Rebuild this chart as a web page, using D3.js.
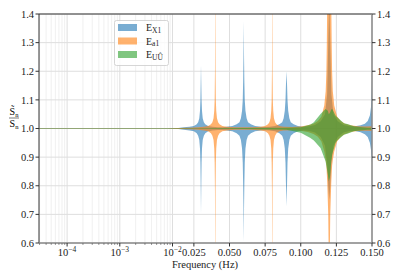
<!DOCTYPE html>
<html>
<head>
<meta charset="utf-8">
<script src="https://cdn.jsdelivr.net/npm/d3@7"></script>
<style>
  body{margin:0;background:#fff;}
  text{font-family:"Liberation Serif","Times New Roman",serif;}
</style>
</head>
<body>
<svg id="chart" width="399" height="279"></svg>
<script>
// series labels, colours
var seriesNames=["X1","a1","UÛ"];
var seriesColors=["#1f77b4","#ff7f0e","#2ca02c"];

// [frequency, upper, lower]
var eX1=[
  [0.0000293,1.001,0.999],[0.001,1.001,0.999],[0.008,1.001,0.999],[0.014,1.002,0.998],
  [0.018,1.004,0.996],[0.022,1.006,0.993],[0.025,1.009,0.990],[0.027,1.015,0.983],
  [0.028,1.022,0.975],[0.0288,1.036,0.960],[0.0293,1.062,0.930],[0.0296,1.100,0.880],
  [0.0298,1.160,0.800],[0.0300,1.220,0.705],[0.0302,1.160,0.800],[0.0304,1.100,0.880],
  [0.0307,1.062,0.930],[0.0312,1.036,0.960],[0.0320,1.022,0.975],[0.0330,1.015,0.983],
  [0.0350,1.009,0.990],[0.0380,1.006,0.993],[0.0420,1.004,0.995],[0.0450,1.004,0.995],
  [0.0480,1.006,0.993],[0.0520,1.009,0.990],[0.0550,1.015,0.983],[0.0570,1.022,0.975],
  [0.0580,1.036,0.960],[0.0588,1.062,0.930],[0.0593,1.100,0.880],[0.0596,1.170,0.800],
  [0.0598,1.250,0.720],[0.0600,1.375,0.605],[0.0602,1.250,0.720],[0.0604,1.170,0.800],
  [0.0607,1.100,0.880],[0.0612,1.062,0.930],[0.0620,1.036,0.960],[0.0630,1.022,0.975],
  [0.0650,1.015,0.983],[0.0680,1.009,0.990],[0.0720,1.006,0.993],[0.0750,1.005,0.994],
  [0.0780,1.006,0.993],[0.0820,1.009,0.990],[0.0850,1.015,0.983],[0.0870,1.022,0.975],
  [0.0880,1.036,0.960],[0.0888,1.062,0.930],[0.0893,1.100,0.880],[0.0896,1.150,0.810],
  [0.0900,1.200,0.728],[0.0904,1.150,0.810],[0.0907,1.100,0.880],[0.0912,1.062,0.930],
  [0.0920,1.036,0.960],[0.0930,1.022,0.975],[0.0950,1.015,0.983],[0.0980,1.009,0.990],
  [0.1020,1.006,0.993],[0.1060,1.008,0.991],[0.1100,1.012,0.986],[0.1140,1.025,0.970],
  [0.1170,1.050,0.940],[0.1185,1.120,0.880],[0.1193,1.300,0.800],[0.1200,1.450,0.750],
  [0.1207,1.300,0.800],[0.1215,1.120,0.880],[0.1230,1.050,0.940],[0.1260,1.025,0.970],
  [0.1300,1.012,0.986],[0.1340,1.008,0.991],[0.1380,1.008,0.991],[0.1420,1.011,0.987],
  [0.1450,1.017,0.980],[0.1470,1.026,0.970],[0.1485,1.045,0.950],[0.1493,1.075,0.925],
  [0.1497,1.120,0.900],[0.1500,1.170,0.880]
];
var eA1=[
  [0.0000293,1.001,0.999],[0.008,1.001,0.999],[0.015,1.002,0.998],[0.022,1.003,0.997],
  [0.028,1.004,0.996],[0.032,1.006,0.993],[0.035,1.009,0.990],[0.037,1.015,0.983],
  [0.038,1.022,0.975],[0.0388,1.036,0.960],[0.0393,1.062,0.930],[0.0396,1.100,0.880],
  [0.0398,1.200,0.780],[0.0400,1.600,0.400],[0.0402,1.200,0.780],[0.0404,1.100,0.880],
  [0.0407,1.062,0.930],[0.0412,1.036,0.960],[0.042,1.022,0.975],[0.043,1.015,0.983],
  [0.045,1.009,0.990],[0.048,1.006,0.993],[0.054,1.004,0.996],[0.066,1.004,0.996],
  [0.072,1.006,0.993],[0.075,1.009,0.990],[0.077,1.015,0.983],[0.078,1.022,0.975],
  [0.0788,1.036,0.960],[0.0793,1.062,0.930],[0.0796,1.100,0.880],[0.0798,1.200,0.780],
  [0.0800,1.600,0.400],[0.0802,1.200,0.780],[0.0804,1.100,0.880],[0.0807,1.062,0.930],
  [0.0812,1.036,0.960],[0.082,1.022,0.975],[0.083,1.015,0.983],[0.085,1.009,0.990],
  [0.088,1.006,0.993],[0.094,1.005,0.994],[0.100,1.007,0.992],[0.105,1.011,0.988],
  [0.109,1.017,0.981],[0.112,1.026,0.971],[0.1145,1.042,0.955],[0.1165,1.080,0.920],
  [0.1175,1.130,0.890],[0.1180,1.200,0.870],[0.1183,1.300,0.840],[0.1186,1.450,0.810],
  [0.1193,1.550,0.700],[0.1200,1.600,0.400],[0.1207,1.550,0.700],[0.1214,1.450,0.810],
  [0.1217,1.300,0.840],[0.1220,1.200,0.870],[0.1225,1.130,0.890],[0.1235,1.080,0.920],
  [0.1255,1.042,0.955],[0.128,1.026,0.971],[0.131,1.017,0.981],[0.135,1.011,0.988],
  [0.140,1.008,0.991],[0.145,1.007,0.992],[0.150,1.008,0.991]
];
var eUU=[
  [0.0000293,1.001,0.999],[0.008,1.001,0.999],[0.03,1.001,0.999],[0.06,1.002,0.998],
  [0.09,1.003,0.996],[0.100,1.004,0.985],[0.1068,1.014,0.967],[0.1092,1.022,0.958],
  [0.1139,1.051,0.932],[0.1174,1.068,0.886],[0.1190,1.062,0.840],[0.1197,1.050,0.816],
  [0.1205,1.055,0.830],[0.1214,1.066,0.886],[0.1221,1.068,0.910],[0.1244,1.045,0.949],
  [0.1256,1.039,0.958],[0.1303,1.018,0.978],[0.1327,1.016,0.982],[0.1373,1.008,0.990],
  [0.1397,1.006,0.992],[0.1468,1.003,0.996],[0.1500,1.003,0.996]
];
var allSeries=[eX1,eA1,eUU];

var yTicks=[0.6,0.7,0.8,0.9,1.0,1.1,1.2,1.3,1.4];
var logTicks=[1e-4,1e-3,1e-2];
var linTicks=[0.025,0.050,0.075,0.100,0.125,0.150];

var L=39,R=372,T=14,B=243,brk=172.5;
var FONT="Liberation Serif, Times New Roman, serif";
var svg=d3.select("#chart");

// log part below 0.01, linear part above
var xLog=d3.scaleLog().domain([2.93e-5,0.01]).range([L,brk]);
var xLin=d3.scaleLinear().domain([0.01,0.15]).range([brk,R]);
function x(f){ return f<=0.01 ? xLog(f) : xLin(f); }
var y=d3.scaleLinear().domain([0.6,1.4]).range([B,T]);

// minor log grid
var minors=[];
[1e-5,1e-4,1e-3].forEach(function(dec){
  for(var k=2;k<10;k++){ var v=dec*k; if(v>=2.93e-5 && v<0.01) minors.push(v); }
});
svg.append("g").selectAll("line").data(minors).enter().append("line")
  .attr("x1",function(d){return x(d);}).attr("x2",function(d){return x(d);})
  .attr("y1",T).attr("y2",B)
  .attr("stroke","#ececec").attr("stroke-width",0.8);

// major grid
var xMajor=logTicks.concat(linTicks);
svg.append("g").selectAll("line").data(xMajor).enter().append("line")
  .attr("x1",function(d){return x(d);}).attr("x2",function(d){return x(d);})
  .attr("y1",T).attr("y2",B)
  .attr("stroke","#dedede").attr("stroke-width",1);
svg.append("g").selectAll("line").data(yTicks).enter().append("line")
  .attr("x1",L).attr("x2",R)
  .attr("y1",function(d){return y(d);}).attr("y2",function(d){return y(d);})
  .attr("stroke","#dedede").attr("stroke-width",1);

svg.append("clipPath").attr("id","clip").append("rect")
  .attr("x",L).attr("y",T).attr("width",R-L).attr("height",B-T);

var area=d3.area()
  .x(function(d){return x(d[0]);})
  .y0(function(d){return y(d[2]);})
  .y1(function(d){return y(d[1]);});

svg.append("g").attr("clip-path","url(#clip)")
  .selectAll("path").data(allSeries).enter().append("path")
  .attr("d",area)
  .attr("fill",function(d,i){return seriesColors[i];})
  .attr("fill-opacity",0.6)
  .attr("stroke","none");

// spines
svg.append("line").attr("x1",L).attr("x2",R).attr("y1",T).attr("y2",T).attr("stroke","#333").attr("stroke-width",1);
svg.append("line").attr("x1",L).attr("x2",L).attr("y1",T).attr("y2",B).attr("stroke","#333").attr("stroke-width",1);
svg.append("line").attr("x1",L).attr("x2",R).attr("y1",B).attr("y2",B).attr("stroke","#888").attr("stroke-width",1.5);
svg.append("line").attr("x1",R).attr("x2",R).attr("y1",T).attr("y2",B).attr("stroke","#888").attr("stroke-width",1.5);

// y ticks both sides
var yt=svg.append("g").attr("font-family",FONT);
yt.selectAll(".tl").data(yTicks).enter().append("line")
  .attr("x1",L-3.5).attr("x2",L).attr("y1",function(d){return y(d);}).attr("y2",function(d){return y(d);})
  .attr("stroke","#333");
yt.selectAll(".tr").data(yTicks).enter().append("line")
  .attr("x1",R).attr("x2",R+3.5).attr("y1",function(d){return y(d);}).attr("y2",function(d){return y(d);})
  .attr("stroke","#333");
yt.selectAll(".ll").data(yTicks).enter().append("text")
  .attr("x",L-5).attr("y",function(d){return y(d);}).attr("dy","0.35em")
  .attr("text-anchor","end").attr("font-size","10.5px").attr("fill","#222")
  .text(function(d){return d.toFixed(1);});
yt.selectAll(".lr").data(yTicks).enter().append("text")
  .attr("x",R+5).attr("y",function(d){return y(d);}).attr("dy","0.35em")
  .attr("text-anchor","start").attr("font-size","10.5px").attr("fill","#222")
  .text(function(d){return d.toFixed(1);});

// x ticks
var xt=svg.append("g").attr("font-family",FONT);
xt.selectAll(".mn").data(minors).enter().append("line")
  .attr("x1",function(d){return x(d);}).attr("x2",function(d){return x(d);})
  .attr("y1",B).attr("y2",B+2).attr("stroke","#555").attr("stroke-width",0.6);
xt.selectAll(".mj").data(xMajor).enter().append("line")
  .attr("x1",function(d){return x(d);}).attr("x2",function(d){return x(d);})
  .attr("y1",B).attr("y2",B+3.5).attr("stroke","#333");
var lt=xt.selectAll(".lg").data(logTicks).enter().append("text")
  .attr("x",function(d){return x(d);}).attr("y",256)
  .attr("text-anchor","middle").attr("font-size","10.5px").attr("fill","#222");
lt.append("tspan").text("10");
lt.append("tspan").attr("dy",-4).attr("font-size","7.5px")
  .text(function(d){return "\u2212"+Math.round(-Math.log10(d));});
xt.selectAll(".ln").data(linTicks).enter().append("text")
  .attr("x",function(d){return x(d);}).attr("y",256)
  .attr("text-anchor","middle").attr("font-size","10.5px").attr("fill","#222")
  .text(function(d){return d.toFixed(3);});

svg.append("text").attr("x",205).attr("y",268).attr("text-anchor","middle")
  .attr("font-family",FONT).attr("font-size","10.5px").attr("fill","#222").text("Frequency (Hz)");

// y label: S~n over Sn
var yl=svg.append("g").attr("transform","translate(14,118)").attr("font-family",FONT);
yl.append("text").attr("x",0).attr("y",-3).attr("text-anchor","middle").attr("font-size","10px")
  .html("S\u0303<tspan font-size='6.5px' dy='2'>n</tspan>");
yl.append("line").attr("x1",-5).attr("x2",5).attr("y1",0).attr("y2",0).attr("stroke","#222").attr("stroke-width",0.6);
yl.append("text").attr("x",0).attr("y",9).attr("text-anchor","middle").attr("font-size","10px")
  .html("S<tspan font-size='6.5px' dy='2'>n</tspan>");

// legend
var lg=svg.append("g").attr("font-family",FONT);
lg.append("rect").attr("x",114.5).attr("y",20.5).attr("width",54).attr("height",45).attr("rx",2)
  .attr("fill","#fff").attr("fill-opacity",0.8).attr("stroke","#ccc").attr("stroke-width",0.8);
var rows=lg.selectAll(".row").data(seriesNames).enter().append("g")
  .attr("transform",function(d,i){return "translate(118,"+(27.5+i*13.5)+")";});
rows.append("rect").attr("x",0).attr("y",-3.5).attr("width",19).attr("height",7)
  .attr("fill",function(d,i){return seriesColors[i];}).attr("fill-opacity",0.6);
var lt2=rows.append("text").attr("x",28).attr("y",3.5).attr("font-size","10px").attr("fill","#222");
lt2.append("tspan").text("E");
lt2.append("tspan").attr("font-size","7.5px").attr("dy",1.5).text(function(d){return d;});
</script>
</body>
</html>
